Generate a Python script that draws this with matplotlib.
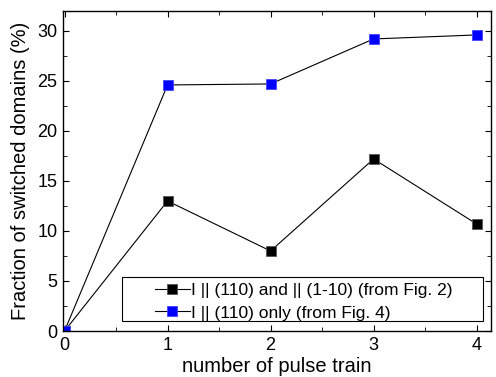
import matplotlib
matplotlib.use("Agg")
import matplotlib.pyplot as plt
from matplotlib.ticker import MultipleLocator
from matplotlib.patches import Rectangle

plt.rcParams['font.family'] = ['Liberation Sans', 'DejaVu Sans']

x = [0, 1, 2, 3, 4]
black_vals = [0, 13.0, 8.0, 17.2, 10.7]
blue_vals = [0, 24.6, 24.7, 29.2, 29.6]
labels = ["I || (110) and || (1-10) (from Fig. 2)", "I || (110) only (from Fig. 4)"]

fig = plt.figure(figsize=(4.96, 3.77), dpi=100)
ax = fig.add_axes([0.127, 0.122, 0.863, 0.849])

ax.plot(x, black_vals, color='black', lw=0.8, marker='s', ms=7.5,
        mfc='black', mec='#555555', mew=0.6, label=labels[0])
ax.plot(x, blue_vals, color='black', lw=0.8, marker='s', ms=7.5,
        mfc='blue', mec='#4444ff', mew=0.6, label=labels[1])

ax.set_xlim(-0.015, 4.14)
ax.set_ylim(0, 32)
ax.xaxis.set_major_locator(MultipleLocator(1))
ax.xaxis.set_minor_locator(MultipleLocator(0.5))
ax.yaxis.set_major_locator(MultipleLocator(5))
ax.yaxis.set_minor_locator(MultipleLocator(2.5))
ax.tick_params(which='both', direction='in', top=True, right=True, labelsize=13)
ax.tick_params(which='major', length=4.5)
ax.tick_params(axis='x', which='major', pad=4.5)
ax.tick_params(axis='y', which='major', pad=4)
ax.tick_params(which='minor', length=3)
for s in ax.spines.values():
    s.set_linewidth(1.0)

ax.set_xlabel("number of pulse train", fontsize=14.5, labelpad=2)
ax.set_ylabel("Fraction of switched domains (%)", fontsize=14.5, labelpad=5)

# legend frame
ax.add_patch(Rectangle((0.138, 0.031), 0.843, 0.139, transform=ax.transAxes,
                       fill=True, facecolor='white', edgecolor='black',
                       lw=0.8, zorder=4))
leg = ax.legend(loc='center left', fontsize=12.5, frameon=False,
                handlelength=2.0, handletextpad=0.1, borderpad=0.0,
                labelspacing=0.4, bbox_to_anchor=(0.215, 0.091),
                borderaxespad=0)
leg.set_zorder(5)

fig.savefig("out.png", dpi=100)
